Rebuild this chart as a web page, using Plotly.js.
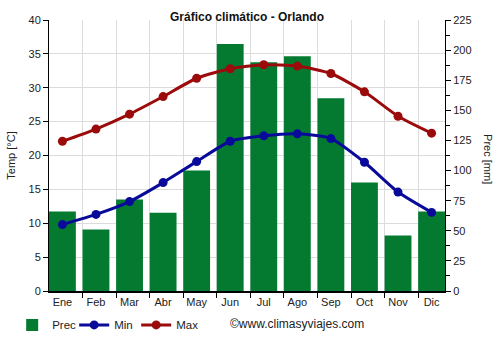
<!DOCTYPE html>
<html><head><meta charset="utf-8">
<script src="https://cdn.plot.ly/plotly-3.0.1.min.js"></script>
<style>body{margin:0;background:#fff}</style>
</head><body><div id="chart" style="width:500px;height:350px"></div>
<script>
const months = ["Ene","Feb","Mar","Abr","May","Jun","Jul","Ago","Sep","Oct","Nov","Dic"];
const prec = [66, 51, 76, 65, 100, 205, 190, 195, 160, 90, 46, 66];
const tmin = [9.8, 11.3, 13.2, 16.0, 19.1, 22.1, 22.9, 23.2, 22.5, 19.0, 14.6, 11.6];
const tmax = [22.1, 23.9, 26.1, 28.7, 31.4, 32.8, 33.4, 33.2, 32.1, 29.4, 25.8, 23.3];

const idx = months.map((m, i) => i);
const boundaries = months.slice(1).map((m, i) => i + 0.6);

const ff = "Liberation Sans, Arial, sans-serif";
const font = {family: ff, size: 11, color: "#222"};

const traces = [
  {type: "bar", name: "Prec", x: idx, y: prec, width: 0.8, yaxis: "y",
   marker: {color: "#037a30"}},
  {type: "scatter", mode: "lines+markers", name: "Min", x: idx, y: tmin, yaxis: "y2",
   line: {color: "#0a0a9a", width: 3, shape: "spline", smoothing: 0.6}, marker: {color: "#0a0a9a", size: 9}},
  {type: "scatter", mode: "lines+markers", name: "Max", x: idx, y: tmax, yaxis: "y2",
   line: {color: "#9b0b0b", width: 3, shape: "spline", smoothing: 0.6}, marker: {color: "#9b0b0b", size: 9}}
];

const layout = {
  width: 500, height: 350,
  margin: {l: 49, r: 55, t: 20, b: 58},
  paper_bgcolor: "#fff", plot_bgcolor: "#fff",
  font: font,
  title: {text: "<b>Gráfico climático - Orlando</b>", x: 0.5, xanchor: "center", xref: "paper",
          y: 0.951, yanchor: "middle", yref: "container",
          font: {family: ff, size: 12, color: "#111"}},
  showlegend: true,
  legend: {orientation: "h", x: -0.093, xanchor: "left", y: -0.121, yanchor: "middle",
           font: {family: ff, size: 11.5, color: "#222"},
           itemwidth: 30, entrywidth: 17, entrywidthmode: "pixels", traceorder: "normal"},
  xaxis: {range: [-0.4, 11.4], tickmode: "array", tickvals: idx, ticktext: months,
          ticks: "", showgrid: false, zeroline: false,
          showline: true, linecolor: "#000", linewidth: 2,
          minor: {tickmode: "array", tickvals: boundaries, ticks: "outside", ticklen: 5,
                  tickcolor: "#000", showgrid: true, gridcolor: "#dcdcdc", gridwidth: 1},
          tickfont: font, fixedrange: true},
  yaxis: {range: [0, 225], side: "right", dtick: 25, tick0: 0, showgrid: false, zeroline: false,
          showline: true, linecolor: "#000", linewidth: 1,
          ticks: "outside", ticklen: 5, tickcolor: "#000",
          minor: {dtick: 12.5, ticks: "outside", ticklen: 4, tickcolor: "#000", showgrid: false},
          tickfont: font},
  yaxis2: {range: [0, 40], overlaying: "y", side: "left", dtick: 5, tick0: 0,
           showgrid: true, gridcolor: "#dcdcdc", gridwidth: 1, zeroline: false,
           showline: true, linecolor: "#000", linewidth: 1,
           ticks: "outside", ticklen: 5, tickcolor: "#000", tickfont: font,
           title: {text: "Temp [°C]", font: {family: ff, size: 11, color: "#222"}, standoff: 10}},
  annotations: [
    {text: "Prec [mm]", xref: "paper", yref: "paper", x: 1.13, y: 0.485, textangle: 90,
     showarrow: false, font: {family: ff, size: 11, color: "#222"}},
    {text: "©www.climasyviajes.com", xref: "paper", yref: "paper", x: 0.627, y: -0.121,
     showarrow: false, xanchor: "center", yanchor: "middle",
     font: {family: ff, size: 12, color: "#222"}}
  ],
  bargap: 0.2
};

Plotly.newPlot("chart", traces, layout, {displayModeBar: false, staticPlot: true});
</script>
</body></html>
